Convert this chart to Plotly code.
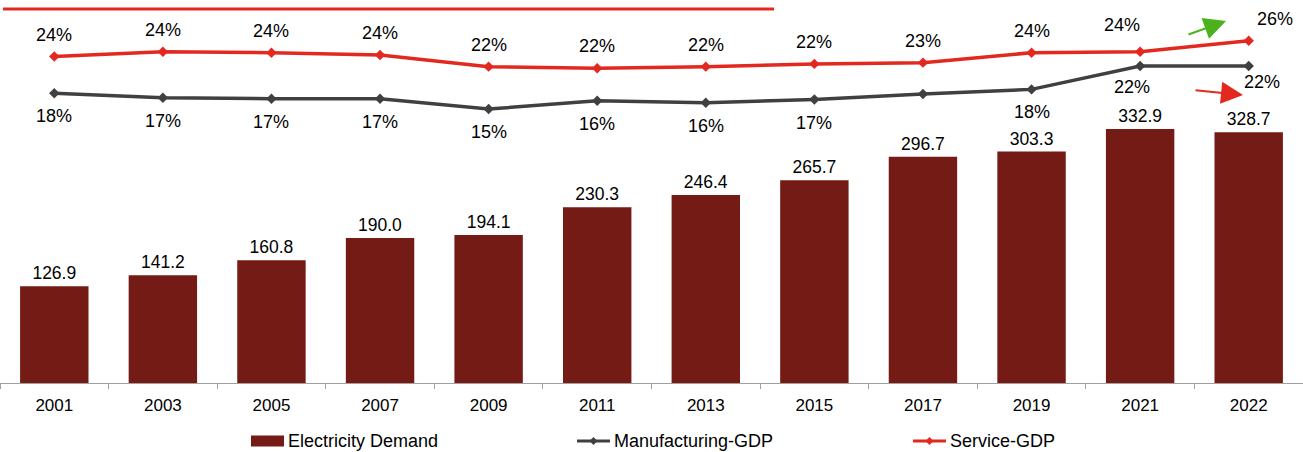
import plotly.graph_objects as go

# ---------------- data ----------------
years = ["2001", "2003", "2005", "2007", "2009", "2011", "2013", "2015", "2017", "2019", "2021", "2022"]
electricity_demand = [126.9, 141.2, 160.8, 190.0, 194.1, 230.3, 246.4, 265.7, 296.7, 303.3, 332.9, 328.7]
manufacturing_gdp = [17.56, 16.84, 16.68, 16.68, 15.0, 16.35, 16.03, 16.55, 17.44, 18.2, 22.0, 22.0]
service_gdp = [23.55, 24.33, 24.17, 23.8, 21.9, 21.63, 21.9, 22.35, 22.55, 24.17, 24.33, 26.12]
mfg_hidden_labels = ["2017"]

# ---------------- styles ----------------
FONT = "Liberation Sans, Arial, sans-serif"
BAR_C = "#731B14"
SERV_C = "#E3291F"
MFG_C = "#404040"
GREEN_C = "#4BB21E"
W, H = 1303, 452
MT, MB = 0, 69
PLOT_H = H - MT - MB


def px_x(x):
    return x / W


def px_y(y):
    return (PLOT_H + MT - y) / PLOT_H


fig = go.Figure()

fig.add_trace(go.Bar(
    x=years, y=electricity_demand, name="Electricity Demand",
    marker=dict(color=BAR_C, line=dict(width=0)),
    texttemplate="%{y:.1f}", textposition="outside",
    textfont=dict(size=17.5, color="black", family=FONT),
    cliponaxis=False, showlegend=False,
))
fig.add_trace(go.Scatter(
    x=years, y=manufacturing_gdp, name="Manufacturing-GDP", yaxis="y2",
    mode="lines+markers", line=dict(color=MFG_C, width=3.5),
    marker=dict(symbol="diamond", size=8, color=MFG_C),
    cliponaxis=False, showlegend=False,
))
fig.add_trace(go.Scatter(
    x=years, y=service_gdp, name="Service-GDP", yaxis="y2",
    mode="lines+markers", line=dict(color=SERV_C, width=3.5),
    marker=dict(symbol="diamond", size=8, color=SERV_C),
    cliponaxis=False, showlegend=False,
))

annotations = []
# service labels (above)
serv_shift = {"2021": (-18, 27), "2022": (26, 22)}
for i, (yr, v) in enumerate(zip(years, service_gdp)):
    dx, dy = serv_shift.get(yr, (0, 22))
    annotations.append(dict(x=i, y=v, xref="x", yref="y2", text=f"{v:.0f}%",
                            showarrow=False, xshift=dx, yshift=dy,
                            font=dict(size=18, color="black", family=FONT)))
# manufacturing labels (below)
mfg_shift = {"2021": (-8, -21), "2022": (13, -16)}
for i, (yr, v) in enumerate(zip(years, manufacturing_gdp)):
    if yr in mfg_hidden_labels:
        continue
    dx, dy = mfg_shift.get(yr, (0, -23))
    annotations.append(dict(x=i, y=v, xref="x", yref="y2", text=f"{v:.0f}%",
                            showarrow=False, xshift=dx, yshift=dy,
                            font=dict(size=18, color="black", family=FONT)))

# arrows
annotations.append(dict(x=px_x(1226), y=px_y(21), xref="paper", yref="paper",
                        ax=-39, ay=14, showarrow=True, arrowhead=2, arrowsize=2.2,
                        arrowwidth=2, arrowcolor=GREEN_C, text=""))
annotations.append(dict(x=px_x(1243), y=px_y(95), xref="paper", yref="paper",
                        ax=-49, ay=-5, showarrow=True, arrowhead=2, arrowsize=2.2,
                        arrowwidth=2, arrowcolor=SERV_C, text=""))

shapes = []
# decorative top line
shapes.append(dict(type="line", xref="paper", yref="paper",
                   x0=px_x(3), x1=px_x(774), y0=px_y(9), y1=px_y(9),
                   line=dict(color=SERV_C, width=3)))

# manual legend
LY = 441
legend_items = [
    ("bar", 251, "Electricity Demand", BAR_C),
    ("line", 577, "Manufacturing-GDP", MFG_C),
    ("line", 913, "Service-GDP", SERV_C),
]
for kind, x0, label, col in legend_items:
    if kind == "bar":
        shapes.append(dict(type="rect", xref="paper", yref="paper",
                           x0=px_x(x0), x1=px_x(x0 + 33), y0=px_y(LY - 5.5), y1=px_y(LY + 5.5),
                           fillcolor=col, line=dict(width=0)))
    else:
        shapes.append(dict(type="line", xref="paper", yref="paper",
                           x0=px_x(x0), x1=px_x(x0 + 33), y0=px_y(LY), y1=px_y(LY),
                           line=dict(color=col, width=3)))
        cx = x0 + 16.5
        d = 4
        path = (f"M {px_x(cx - d)} {px_y(LY)} L {px_x(cx)} {px_y(LY - d)} "
                f"L {px_x(cx + d)} {px_y(LY)} L {px_x(cx)} {px_y(LY + d)} Z")
        shapes.append(dict(type="path", xref="paper", yref="paper", path=path,
                           fillcolor=col, line=dict(width=0)))
    annotations.append(dict(x=px_x(x0 + 35), y=px_y(LY), xref="paper", yref="paper",
                            text=label, showarrow=False, xanchor="left", yanchor="middle",
                            font=dict(size=18, color="black", family=FONT)))

fig.update_layout(
    width=W, height=H,
    margin=dict(l=0, r=0, t=MT, b=MB),
    paper_bgcolor="white", plot_bgcolor="white",
    bargap=0.37,
    showlegend=False,
    font=dict(family=FONT, size=17, color="black"),
    xaxis=dict(type="category", categoryorder="array", categoryarray=years,
               range=[-0.5, len(years) - 0.5],
               showgrid=False, zeroline=False,
               showline=True, linecolor="#A0A0A0", linewidth=1,
               ticks="outside", tickson="boundaries", ticklen=5, tickcolor="#A0A0A0",
               tickfont=dict(size=17, color="black", family=FONT),
               ticklabelstandoff=7),
    yaxis=dict(range=[0, 502], visible=False, showgrid=False, zeroline=False),
    yaxis2=dict(range=[-29.6, 32.75], overlaying="y", visible=False,
                showgrid=False, zeroline=False),
    annotations=annotations,
    shapes=shapes,
)

fig.write_html("out.html")
